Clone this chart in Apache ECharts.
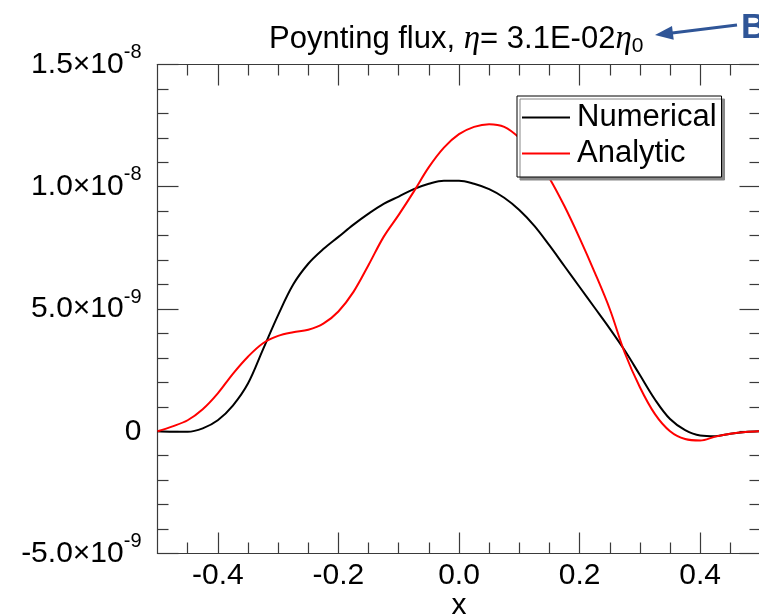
<!DOCTYPE html>
<html>
<head>
<meta charset="utf-8">
<script src="https://cdn.jsdelivr.net/npm/echarts@6/dist/echarts.min.js"></script>
<style>
  html, body { margin: 0; padding: 0; background: #ffffff; }
  #chart { width: 759px; height: 615px; }
</style>
</head>
<body>
<div id="chart"></div>
<script>
// Poynting flux profiles across x (values in units of 1e-9)
const SCALE = 1e-9;
const xValues = [
  -0.500, -0.475, -0.450, -0.425, -0.400, -0.375, -0.350, -0.325, -0.300, -0.275,
  -0.250, -0.225, -0.200, -0.175, -0.150, -0.125, -0.100, -0.075, -0.050, -0.025,
   0.000,  0.025,  0.050,  0.075,  0.100,  0.125,  0.150,  0.175,  0.200,  0.225,
   0.250,  0.275,  0.300,  0.325,  0.350,  0.375,  0.400,  0.425,  0.450,  0.475,
   0.500
];
const numerical = [
   0.00, -0.02, -0.02,  0.12,  0.45,  1.05,  1.95,  3.35,  4.75,  6.00,
   6.85,  7.45,  7.95,  8.45,  8.90,  9.30,  9.60,  9.90, 10.12, 10.25,
  10.25, 10.12,  9.90,  9.55,  9.05,  8.40,  7.60,  6.75,  5.90,  5.05,
   4.20,  3.30,  2.30,  1.30,  0.50,  0.05, -0.17, -0.20, -0.10, -0.03,
   0.00
];
const analytic = [
   0.00,  0.20,  0.45,  0.90,  1.55,  2.35,  3.05,  3.60,  3.90,  4.05,
   4.15,  4.40,  4.90,  5.70,  6.80,  7.95,  8.85,  9.80, 10.80, 11.60,
  12.15, 12.45, 12.56, 12.45, 12.00, 11.30, 10.35,  9.20,  7.90,  6.50,
   5.00,  3.20,  1.80,  0.70,  0.00, -0.32, -0.38, -0.22, -0.10, -0.03,
   0.00
];
const seriesNames = ['Numerical', 'Analytic'];

const xMajorTicks = [-0.4, -0.2, 0.0, 0.2, 0.4];
const xMinorTicks = [-0.45, -0.35, -0.3, -0.25, -0.15, -0.1, -0.05,
                      0.05, 0.1, 0.15, 0.25, 0.3, 0.35, 0.45];
const yTickLabels = [
  ['-5.0\u00d710', '-9'],
  ['0', ''],
  ['5.0\u00d710', '-9'],
  ['1.0\u00d710', '-8'],
  ['1.5\u00d710', '-8']
];

const FONT = 'Liberation Sans';
const AXIS_COLOR = '#3a3a3a';

const toPairs = (vals) => xValues.map((x, i) => [x, vals[i] * SCALE]);

function xAxisDef(position, ticks, tickLen, withLabels) {
  return {
    type: 'value', position: position, min: -0.5, max: 0.5,
    axisLine: { show: withLabels || position === 'top', onZero: false,
                lineStyle: { color: AXIS_COLOR, width: 1.2 } },
    axisTick: { show: true, inside: true, length: tickLen, customValues: ticks,
                lineStyle: { color: AXIS_COLOR, width: 1.2 } },
    axisLabel: withLabels ? {
      show: true, customValues: ticks, margin: 7,
      formatter: (v) => v.toFixed(1),
      fontFamily: FONT, fontSize: 30, color: '#000'
    } : { show: false },
    splitLine: { show: false },
    name: withLabels ? 'x' : '',
    nameLocation: 'middle', nameGap: 37, nameMoveOverlap: false,
    nameTextStyle: { fontFamily: FONT, fontSize: 30, lineHeight: 30, color: '#000', verticalAlign: 'top' }
  };
}

function yAxisDef(position, withLabels) {
  return {
    type: 'value', position: position,
    min: -5e-9, max: 1.5e-8, interval: 5e-9,
    axisLine: { show: true, onZero: false, lineStyle: { color: AXIS_COLOR, width: 1.2 } },
    axisTick: { show: true, inside: true, length: 21, lineStyle: { color: AXIS_COLOR, width: 1.2 } },
    minorTick: { show: true, splitNumber: 5, length: 11, lineStyle: { color: AXIS_COLOR, width: 1.2 } },
    splitLine: { show: false },
    axisLabel: withLabels ? {
      show: true, margin: 16,
      formatter: (v) => {
        const lab = yTickLabels[Math.round(v / 5e-9) + 1];
        return lab[1] ? '{b|' + lab[0] + '}{s|' + lab[1] + '}' : '{b|' + lab[0] + '}';
      },
      rich: {
        b: { fontFamily: FONT, fontSize: 30, lineHeight: 30, color: '#000' },
        s: { fontFamily: FONT, fontSize: 20, lineHeight: 6, padding: [0, 0, 24, 0], color: '#000' }
      }
    } : { show: false }
  };
}

const chart = echarts.init(document.getElementById('chart'), null, { renderer: 'canvas' });

chart.setOption({
  animation: false,
  backgroundColor: '#ffffff',
  title: {
    left: 264, top: 18,
    text: '{t|Poynting flux, }{g|\u03b7}{t|= 3.1E-02}{g|\u03b7}{sub|0}',
    textStyle: {
      fontWeight: 'normal',
      rich: {
        t: { fontFamily: FONT, fontWeight: 'normal', fontSize: 31, lineHeight: 32, color: '#000' },
        g: { fontFamily: 'Liberation Serif', fontStyle: 'italic', fontWeight: 'normal', fontSize: 33, lineHeight: 32, color: '#000' },
        sub: { fontFamily: FONT, fontWeight: 'normal', fontSize: 21, lineHeight: 20, padding: [14, 0, 0, 0], color: '#000' }
      }
    }
  },
  legend: {
    orient: 'vertical', left: 517, top: 96,
    padding: [6, 5, 8, 5], itemGap: 5,
    itemWidth: 48, itemHeight: 2, icon: 'rect',
    backgroundColor: '#ffffff', borderColor: '#000', borderWidth: 1,
    shadowColor: '#888888', shadowOffsetX: 3, shadowOffsetY: 3, shadowBlur: 0,
    textStyle: { fontFamily: FONT, fontSize: 31, lineHeight: 31, color: '#000', padding: [0, 0, 0, 2] },
    data: seriesNames
  },
  grid: { left: 157.5, top: 64.5, width: 603, height: 489, outerBoundsMode: 'none', containLabel: false },
  xAxis: [
    xAxisDef('bottom', xMajorTicks, 21, true),
    xAxisDef('bottom', xMinorTicks, 11, false),
    xAxisDef('top', xMajorTicks, 21, false),
    xAxisDef('top', xMinorTicks, 11, false)
  ],
  yAxis: [
    yAxisDef('left', true),
    yAxisDef('right', false)
  ],
  series: [
    { name: seriesNames[0], type: 'line', xAxisIndex: 0, yAxisIndex: 0,
      data: toPairs(numerical), smooth: 0.35, symbol: 'none',
      lineStyle: { color: '#000000', width: 2 }, itemStyle: { color: '#000000' } },
    { name: seriesNames[1], type: 'line', xAxisIndex: 0, yAxisIndex: 0,
      data: toPairs(analytic), smooth: 0.35, symbol: 'none',
      lineStyle: { color: '#ff0000', width: 2 }, itemStyle: { color: '#ff0000' } }
  ],
  graphic: [
    { type: 'line', shape: { x1: 737, y1: 25, x2: 670, y2: 33.2 },
      style: { stroke: '#2F5597', lineWidth: 3 } },
    { type: 'polygon', shape: { points: [[655, 35], [673.7, 39.8], [672.0, 25.9]] },
      style: { fill: '#2F5597' } },
    { type: 'text', left: 741, top: 11,
      style: { text: 'B', fontFamily: FONT, fontWeight: 'bold', fontSize: 35, fill: '#2F5597' } }
  ]
});
</script>
</body>
</html>
